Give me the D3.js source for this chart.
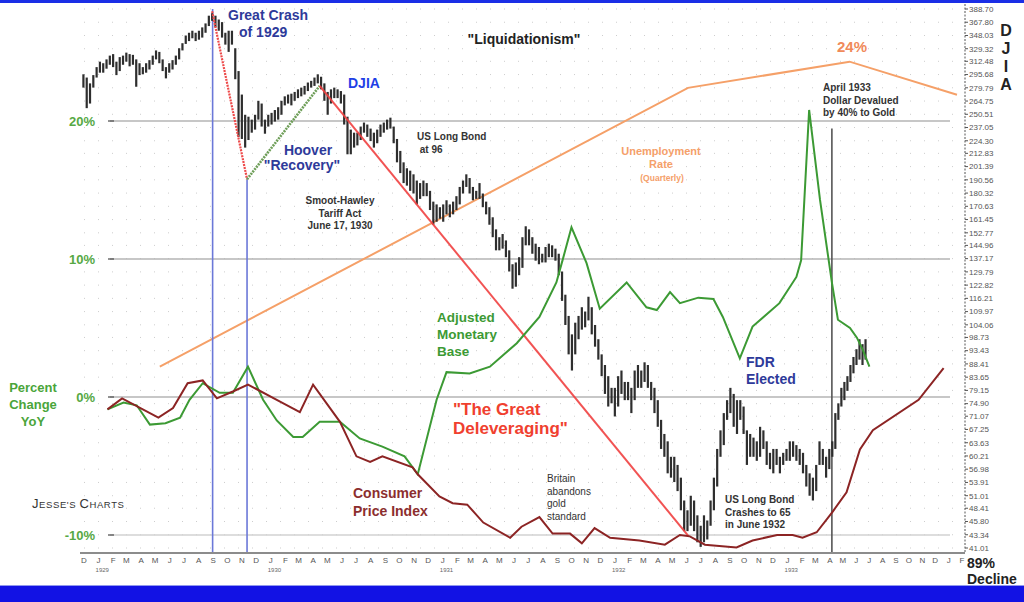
<!DOCTYPE html>
<meta charset='utf-8'>
<style>
  body { margin: 0; background: #fff; }
  svg text { font-family: "Liberation Sans", Arial, sans-serif; }
</style>
<body></body>
<script src="https://cdn.jsdelivr.net/npm/d3@7"></script>
<script>

// weekly DJIA bars as [high, low], first week starts 1928-12-01
var djiaStart = '1928-12-01'
var djiaWeeks = [
  // 1928 dec
  [296,280],[292,257],[285,262],[295,280],[305,292],
  // 1929
  [312,298],[310,298],[315,303],[320,308],
  [322,305],[312,295],[318,300],[320,308],
  [324,312],[322,306],[321,308],[315,281],[310,295],
  [305,296],[310,298],[314,302],[320,308],
  [327,315],[325,310],[315,300],[305,291],
  [310,298],[314,302],[320,308],[330,315],[337,327],
  [348,336],[352,340],[355,344],[352,340],
  [355,342],[360,345],[366,352],[378,362],[382,370],
  [378,360],[372,355],[368,345],[352,335],
  [355,325],[355,335],[330,290],[300,228],
  [272,226],[250,218],[248,225],[245,232],[250,235],
  [265,245],[262,238],[245,231],[250,238],
  // 1930
  [252,240],[255,243],[258,245],[265,250],
  [270,260],[272,262],[273,260],[275,265],
  [278,268],[280,270],[282,272],[286,276],[288,280],
  [292,282],[296,285],[293,278],[285,265],
  [275,250],[278,262],[280,268],[278,268],[276,262],
  [272,240],[248,212],[235,212],[232,218],
  [232,220],[238,225],[242,232],[240,228],
  [236,224],[232,218],[235,222],[240,228],[242,232],
  [245,235],[247,236],[238,222],[226,205],
  [215,196],[205,188],[200,186],[198,182],
  [195,180],[190,172],[188,176],[190,178],[188,178],
  [182,168],[174,158],[172,160],[170,162],
  // 1931
  [172,160],[175,165],[172,163],[174,165],[178,168],
  [185,172],[190,180],[195,185],[192,180],
  [185,175],[182,176],[188,176],[180,170],
  [174,165],[170,158],[163,150],[155,142],
  [150,142],[152,143],[148,138],[142,130],[134,121],
  [135,122],[138,128],[150,132],[157,145],
  [155,145],[150,140],[146,136],[144,134],
  [140,135],[144,135],[146,138],[145,138],[143,136],
  [140,128],[130,115],[118,104],[108,92],
  [100,86],[105,92],[108,98],[112,102],[110,103],
  [117,106],[112,100],[104,95],[98,90],
  [92,84],[88,78],[84,74],[80,75],
  // 1932
  [80,71],[84,74],[86,78],[82,76],[82,76],
  [80,72],[86,76],[88,80],[86,80],
  [89,82],[88,80],[82,76],[80,72],
  [76,68],[70,62],[66,60],[64,56],[60,55],
  [60,54],[58,52],[55,48],[50,44],
  [48,44],[51,45],[50,44],[47,42],
  [45,41.2],[47,42],[46,42.5],[50,45],[55,48],
  [62,53],[67,60],[72,63],[76,70],
  [80,72],[78,68],[76,66],[76,70],
  [74,66],[67,58],[66,60],[65,60],[64,59],
  [68,60],[67,62],[64,58],[61,57],
  [62,56],[62,58],[60,56],[61,58],[62,59],
  // 1933
  [64,59],[64,60],[63,59],[62,58],
  [61,56],[58,53],[56,51],[55,50],
  [58,52],[64,58],[62,58],[60,55],
  [62,57],[64,60],[72,62],[75,70],[80,74],
  [82,76],[84,79],[88,82],[91,85],
  [94,88],[98,90],[96,88],[98,90]
]

var djiaTicks = [388.70, 367.80, 348.03, 329.32, 312.48, 295.68, 279.79, 264.75, 250.51, 237.05,
  224.30, 212.83, 201.39, 190.56, 180.32, 170.63, 161.45, 152.77, 144.96, 137.17, 129.79, 122.82,
  116.21, 109.97, 104.06, 98.73, 93.43, 88.41, 83.65, 79.15, 74.90, 71.07, 67.25, 63.63, 60.21,
  56.98, 53.91, 51.01, 48.41, 45.80, 43.34, 41.01]

// percent change YoY
var monetaryBase = [
  ['1929-01-24',-0.9],['1929-02-27',-0.4],['1929-03-27',-0.6],['1929-04-24',-2.0],['1929-05-27',-1.9],
  ['1929-06-27',-1.5],['1929-07-17',-0.2],['1929-08-14',1.0],['1929-09-19',0.3],['1929-10-17',0.3],
  ['1929-11-18',2.2],['1929-12-20',-0.2],['1930-01-18',-1.7],['1930-02-22',-2.9],['1930-03-14',-2.9],
  ['1930-04-19',-1.8],['1930-06-01',-1.8],['1930-07-13',-3.0],['1930-08-30',-3.6],['1930-10-16',-4.3],
  ['1930-11-13',-5.6],['1930-12-23',-0.2],['1931-01-13',1.8],['1931-03-03',1.7],['1931-04-15',2.2],
  ['1931-06-11',3.9],['1931-07-29',5.8],['1931-09-03',8.3],['1931-09-16',9.9],['1931-10-05',12.3],
  ['1931-11-06',9.7],['1931-12-04',6.4],['1932-01-30',8.3],['1932-03-12',6.5],['1932-04-03',6.3],
  ['1932-05-01',7.6],['1932-05-22',6.8],['1932-06-30',7.2],['1932-08-01',7.1],['1932-08-21',5.8],
  ['1932-09-26',2.8],['1932-10-23',5.1],['1932-12-19',6.8],['1933-01-24',8.7],['1933-02-03',9.9],
  ['1933-02-20',20.8],['1933-03-15',14.3],['1933-04-10',8.3],['1933-04-24',5.6],['1933-05-22',5.0],
  ['1933-06-07',4.3],['1933-06-21',3.4],['1933-07-06',2.2]
]

var consumerPrices = [
  ['1929-01-24',-0.9],['1929-02-24',-0.1],['1929-05-12',-1.5],['1929-06-12',-0.8],['1929-07-13',1.0],
  ['1929-08-14',1.2],['1929-09-13',-0.1],['1929-10-17',0.4],['1929-11-18',0.9],['1930-01-18',-0.2],
  ['1930-03-08',-1.1],['1930-04-05',0.9],['1930-06-01',-1.8],['1930-07-06',-4.3],['1930-08-04',-4.7],
  ['1930-08-30',-4.3],['1930-11-02',-5.1],['1930-11-13',-5.6],['1930-12-29',-7.2],['1931-01-26',-7.7],
  ['1931-02-26',-7.8],['1931-04-01',-9.1],['1931-05-28',-10.2],['1931-06-21',-9.4],['1931-07-29',-8.7],
  ['1931-08-26',-9.9],['1931-10-02',-9.9],['1931-10-27',-10.6],['1931-11-23',-9.5],['1931-12-26',-10.2],
  ['1932-02-26',-10.4],['1932-04-20',-10.7],['1932-05-22',-10.0],['1932-06-12',-10.1],['1932-07-14',-10.7],
  ['1932-09-19',-10.9],['1932-10-23',-10.4],['1932-12-14',-10.0],['1933-01-16',-10.0],['1933-02-06',-10.2],
  ['1933-03-08',-9.8],['1933-04-12',-8.3],['1933-05-14',-6.9],['1933-06-14',-3.8],['1933-07-14',-2.4],
  ['1933-10-28',-0.2],['1933-12-25',2.1]
]

// unemployment rate, quarterly
var unemployment = [['1929-05-15',2.2],['1932-06-08',22.4],['1933-05-21',24.3],['1934-01-25',21.9]]

var pctTicks = [20, 10, 0, -10]
var monthLetters = ['J','F','M','A','M','J','J','A','S','O','N','D']
var yearLabels = [1929, 1930, 1931, 1932, 1933]

// trend lines drawn on the DJIA scale
var crashLine = [['1929-09-03',385],['1929-11-16',191]]
var recoveryLine = [['1929-11-16',191],['1930-04-19',282]]
var deleveragingLine = [['1930-04-19',282],['1932-06-10',43]]

// event markers: date, DJIA level at top of the line
var eventLines = [['1929-09-04',388.7,'#6b78d8'],['1929-11-16',191,'#6b78d8'],['1933-04-10',236,'#555']]

var parse = d3.utcParse('%Y-%m-%d')
var axisY = 553

var svg = d3.select('body').append('svg').attr('width', 1024).attr('height', 602)

var x = d3.scaleUtc()
  .domain([parse('1928-12-01'), parse('1933-04-01'), parse('1934-02-01')])
  .range([82, 828, 960])
var yPct = d3.scaleLinear().domain([-10, 20]).range([535, 121])
var yDjia = d3.scaleLog().domain([41.01, 388.70]).range([548, 9])

// frame bands
svg.append('rect').attr('width', 1024).attr('height', 3).attr('fill', '#1a2ee6')
svg.append('rect').attr('y', 586).attr('width', 1024).attr('height', 16).attr('fill', '#1212e4')
svg.append('line').attr('x1', 0).attr('x2', 1024).attr('y1', 585.5).attr('y2', 585.5).attr('stroke', '#9098ee')

// dotted background grid
svg.append('g').selectAll('line').data(djiaTicks).join('line')
  .attr('x1', 84).attr('x2', 955)
  .attr('y1', d => yDjia(d)).attr('y2', d => yDjia(d))
  .attr('stroke', '#cdcdcd').attr('stroke-dasharray', '1,13')

// percent gridlines
var pctG = svg.append('g')
pctG.selectAll('line.grid').data(pctTicks).join('line').attr('class', 'grid')
  .attr('x1', 110).attr('x2', 950)
  .attr('y1', d => yPct(d)).attr('y2', d => yPct(d))
  .attr('stroke', d => d == -10 ? '#d2d2d2' : '#b4b4b4').attr('stroke-width', 1.3)
pctG.selectAll('line.tick').data(pctTicks).join('line').attr('class', 'tick')
  .attr('x1', 108).attr('x2', 114)
  .attr('y1', d => yPct(d)).attr('y2', d => yPct(d))
  .attr('stroke', '#555').attr('stroke-width', 1.3)
pctG.selectAll('text').data(pctTicks).join('text')
  .attr('x', 95).attr('y', d => yPct(d)).attr('dy', '0.35em')
  .attr('text-anchor', 'end').attr('font-size', 13).attr('font-weight', 'bold')
  .attr('fill', '#56a844').text(d => d + '%')

var pctLine = d3.line().x(d => x(parse(d[0]))).y(d => yPct(d[1]))
var djiaLine = d3.line().x(d => x(parse(d[0]))).y(d => yDjia(d[1]))

// unemployment
svg.append('path').attr('d', pctLine(unemployment))
  .attr('fill', 'none').attr('stroke', '#f5a068').attr('stroke-width', 2)

// event verticals
svg.append('g').selectAll('line').data(eventLines).join('line')
  .attr('x1', d => x(parse(d[0]))).attr('x2', d => x(parse(d[0])))
  .attr('y1', d => yDjia(d[1])).attr('y2', axisY)
  .attr('stroke', d => d[2]).attr('stroke-width', 1.6)

// DJIA weekly bars
var start = parse(djiaStart)
svg.append('g').selectAll('rect').data(djiaWeeks).join('rect')
  .attr('x', (d, i) => x(d3.utcDay.offset(start, 7 * i + 3)) - 1.1)
  .attr('y', d => yDjia(d[0]))
  .attr('width', 2.2)
  .attr('height', d => yDjia(d[1]) - yDjia(d[0]))
  .attr('fill', '#2e2e2e')

// trend annotations
svg.append('path').attr('d', djiaLine(crashLine))
  .attr('fill', 'none').attr('stroke', '#ee4a4a').attr('stroke-width', 2.2).attr('stroke-dasharray', '2,1')
svg.append('path').attr('d', djiaLine(recoveryLine))
  .attr('fill', 'none').attr('stroke', '#6e9e58').attr('stroke-width', 2.6).attr('stroke-dasharray', '2,1')
svg.append('path').attr('d', djiaLine(deleveragingLine))
  .attr('fill', 'none').attr('stroke', '#f04040').attr('stroke-width', 2).attr('opacity', 0.9)

// monetary base and CPI
svg.append('path').attr('d', pctLine(monetaryBase))
  .attr('fill', 'none').attr('stroke', '#3c9a34').attr('stroke-width', 2)
svg.append('path').attr('d', pctLine(consumerPrices))
  .attr('fill', 'none').attr('stroke', '#8c2424').attr('stroke-width', 2)

// x axis
var months = d3.utcMonth.range(parse('1928-12-01'), parse('1934-03-01'))
svg.append('line').attr('x1', 80).attr('x2', 965).attr('y1', axisY).attr('y2', axisY)
  .attr('stroke', '#8c8c8c').attr('stroke-width', 2)
svg.append('g').selectAll('text').data(months).join('text')
  .attr('x', d => x(d) + 2).attr('y', 563)
  .attr('text-anchor', 'middle').attr('font-size', 8).attr('fill', '#555')
  .text(d => monthLetters[d.getUTCMonth()])
svg.append('g').selectAll('text').data(yearLabels).join('text')
  .attr('x', d => x(parse(d + '-01-01')) - 1).attr('y', 572)
  .attr('font-size', 6).attr('fill', '#666')
  .text(d => d)

// right DJIA axis
svg.append('line').attr('x1', 965).attr('x2', 965).attr('y1', 4).attr('y2', axisY)
  .attr('stroke', '#555').attr('stroke-dasharray', '2,1.5')
var rAxis = svg.append('g')
rAxis.selectAll('line').data(djiaTicks).join('line')
  .attr('x1', 965).attr('x2', 968)
  .attr('y1', d => yDjia(d)).attr('y2', d => yDjia(d)).attr('stroke', '#555')
rAxis.selectAll('text').data(djiaTicks).join('text')
  .attr('x', 969).attr('y', d => yDjia(d)).attr('dy', '0.35em')
  .attr('font-size', 8).attr('fill', '#555')
  .text(d => d.toFixed(2))

svg.append('g').selectAll('text').data(['D', 'J', 'I', 'A']).join('text')
  .attr('x', 1006).attr('y', (d, i) => 36 + i * 18)
  .attr('text-anchor', 'middle').attr('font-size', 16).attr('font-weight', 'bold').attr('fill', '#222')
  .text(d => d)

// annotation text
var notes = [
  {x: 228, y: 20, lines: ['Great Crash'], size: 14, color: '#2e3a9a', bold: true},
  {x: 239, y: 37, lines: ['of 1929'], size: 14, color: '#2e3a9a', bold: true},
  {x: 348, y: 88, lines: ['DJIA'], size: 14, color: '#1f3fe6', bold: true},
  {x: 308, y: 155, lines: ['Hoover'], size: 14, color: '#2e3a9a', bold: true, anchor: 'middle'},
  {x: 302, y: 170, lines: ['"Recovery"'], size: 14, color: '#2e3a9a', bold: true, anchor: 'middle'},
  {x: 340, y: 204, lines: ['Smoot-Hawley', 'Tariff Act', 'June 17, 1930'], size: 10, lh: 12.5, color: '#333', bold: true, anchor: 'middle'},
  {x: 524, y: 44, lines: ['"Liquidationism"'], size: 14, color: '#222', bold: true, anchor: 'middle'},
  {x: 417, y: 140, lines: ['US Long Bond', ' at 96'], size: 10, lh: 13, color: '#333', bold: true},
  {x: 661, y: 155, lines: ['Unemployment', 'Rate'], size: 11, lh: 13, color: '#f5a06a', bold: true, anchor: 'middle'},
  {x: 662, y: 181, lines: ['(Quarterly)'], size: 8.5, color: '#f5a06a', bold: true, anchor: 'middle'},
  {x: 852, y: 52, lines: ['24%'], size: 15, color: '#f08a5a', bold: true, anchor: 'middle'},
  {x: 823, y: 91, lines: ['April 1933', 'Dollar Devalued', 'by 40% to Gold'], size: 10, lh: 12.5, color: '#333', bold: true},
  {x: 437, y: 322, lines: ['Adjusted', 'Monetary', 'Base'], size: 13.5, lh: 17, color: '#3c9a34', bold: true},
  {x: 746, y: 367, lines: ['FDR', 'Elected'], size: 14, lh: 17, color: '#2e3a9a', bold: true},
  {x: 453, y: 415, lines: ['"The Great', 'Deleveraging"'], size: 17, lh: 19, color: '#f0402e', bold: true},
  {x: 353, y: 498, lines: ['Consumer', 'Price Index'], size: 14, lh: 18, color: '#8c2e2e', bold: true},
  {x: 547, y: 482, lines: ['Britain', 'abandons', 'gold', 'standard'], size: 10, lh: 12.5, color: '#333'},
  {x: 725, y: 503, lines: ['US Long Bond', 'Crashes to 65', 'in June 1932'], size: 10, lh: 12.5, color: '#333', bold: true},
  {x: 33, y: 392, lines: ['Percent', 'Change', 'YoY'], size: 13, lh: 17, color: '#4aa53a', bold: true, anchor: 'middle'},
  {x: 967, y: 568, lines: ['89%', 'Decline'], size: 14, lh: 16, color: '#222', bold: true}
]

notes.forEach(n => {
  var t = svg.append('text')
    .attr('x', n.x).attr('y', n.y)
    .attr('font-size', n.size).attr('fill', n.color)
    .attr('font-weight', n.bold ? 'bold' : 'normal')
    .attr('text-anchor', n.anchor || 'start')
  n.lines.forEach((l, i) => {
    t.append('tspan').attr('x', n.x).attr('dy', i ? (n.lh || n.size) : 0).text(l)
  })
})

// logo
var logo = svg.append('text').attr('x', 32).attr('y', 508)
  .attr('font-family', '"DejaVu Sans"').attr('fill', '#333').attr('letter-spacing', 0.6)
logo.append('tspan').attr('font-size', 13).text('J')
logo.append('tspan').attr('font-size', 9.5).text("ESSE'S ")
logo.append('tspan').attr('font-size', 13).text('C')
logo.append('tspan').attr('font-size', 9.5).text('HARTS')

</script>
